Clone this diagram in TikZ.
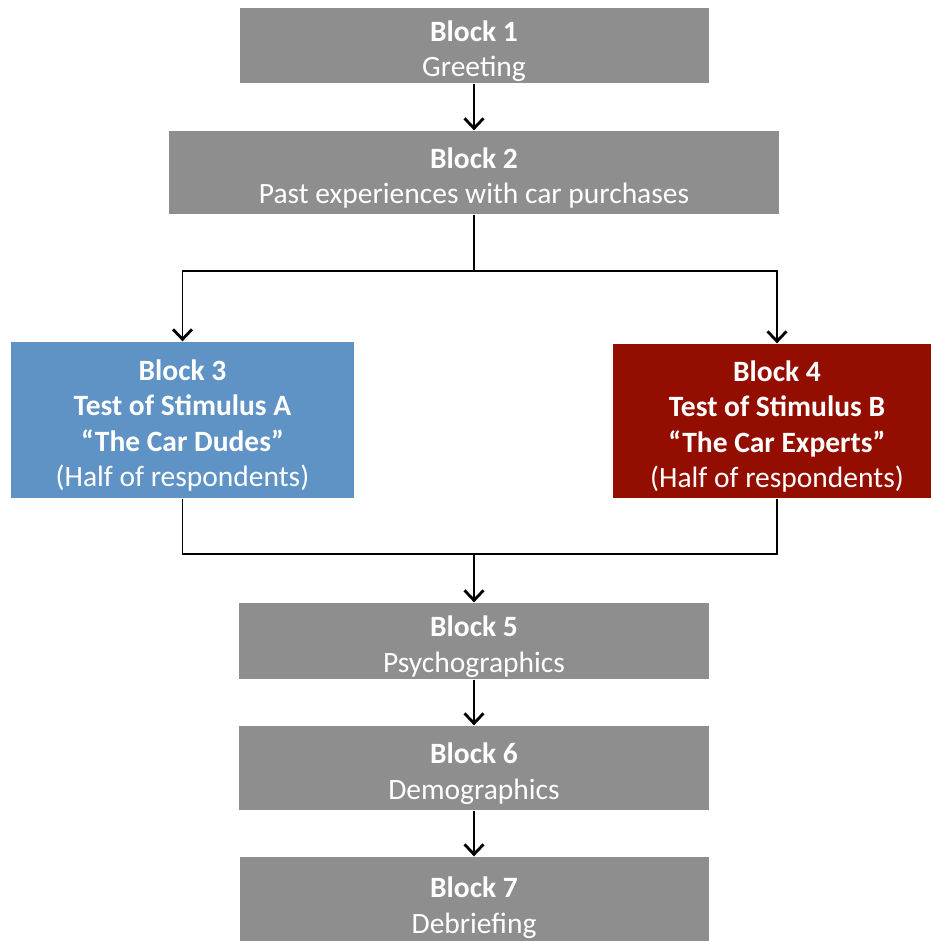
\documentclass[tikz,border=0pt]{standalone}
\usepackage{fontspec}
\setmainfont{Carlito}
\usetikzlibrary{arrows.meta}
\definecolor{blockgray}{RGB}{142,142,142}
\definecolor{blockblue}{RGB}{95,147,198}
\definecolor{blockred}{RGB}{148,14,0}
\newcommand{\blockhead}[1]{\rule{0pt}{32pt}\textbf{#1}}
\begin{document}
\begin{tikzpicture}[x=1pt,y=-1pt,
    block/.style={fill=blockgray,text=white,align=center,inner sep=0pt,
        font=\fontsize{29.5}{35.5}\selectfont},
    arr/.style={-{Straight Barb[length=10pt,width=19pt,line width=2.8pt]}},
    every path/.style={line width=1.3pt}]
            \useasboundingbox (0,0) rectangle (930,941);
            % Nodes
            \node[block,minimum width=469,minimum height=75] (B1) at (474,45.5){\blockhead{Block 1}\\Greeting};
            \node[block,minimum width=610,minimum height=83] (B2) at (474,172.5){\blockhead{Block 2}\\Past experiences with car purchases};
            \node[block,fill=blockblue,minimum width=343,minimum height=156] (B3) at (182.5,420){\blockhead{Block 3}\\\textbf{Test of Stimulus A}\\\textbf{``The Car Dudes''}\\(Half of respondents)};
            \node[block,fill=blockred,minimum width=328,minimum height=154] (B4) at (777,421){\blockhead{Block 4}\\\textbf{Test of Stimulus B}\\\textbf{``The Car Experts''}\\(Half of respondents)};
            \node[block,minimum width=470,minimum height=76] (B5) at (474,641){\blockhead{Block 5}\\Psychographics};
            \node[block,minimum width=470,minimum height=84] (B6) at (474,768){\blockhead{Block 6}\\Demographics};
            \node[block,minimum width=469,minimum height=90] (B7) at (474,902){\blockhead{Block 7}\\Debriefing};
            \coordinate (split) at (474,271);
            \coordinate (merge) at (474,554);
            % Edges
            \draw[arr] (B1) -- (B2);
            \draw (B2) -- (split);
            \draw[arr] (split) -| (B3);
            \draw[arr] (split) -| (B4);
            \draw (B3) |- (merge);
            \draw (B4) |- (merge);
            \draw[arr] (merge) -- (B5);
            \draw[arr] (B5) -- (B6);
            \draw[arr] (B6) -- (B7);
        \end{tikzpicture}
\end{document}
